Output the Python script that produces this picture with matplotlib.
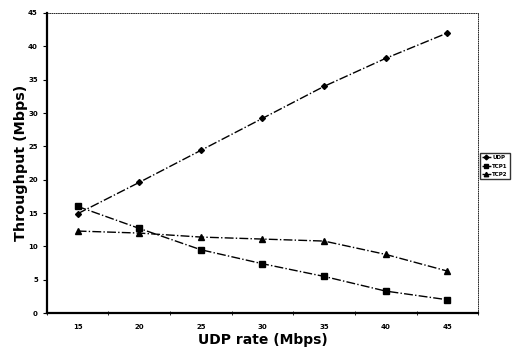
import numpy as np
import matplotlib.pyplot as plt

# dữ liệu
rates = ["15", "20", "25", "30", "35", "40", "45"]
udp = [14.9, 19.6, 24.4, 29.2, 34.0, 38.2, 42.0]
tcp1 = [16.0, 12.7, 9.5, 7.4, 5.5, 3.3, 2.0]
tcp2 = [12.3, 12.0, 11.4, 11.1, 10.8, 8.8, 6.3]

x = np.arange(len(rates))

fig = plt.figure(figsize=(5.26, 3.51), dpi=100)
ax = fig.add_axes([0.089, 0.108, 0.82, 0.855])

ax.plot(x, udp, color="black", linestyle="-.", linewidth=1, marker="D", markersize=3, label="UDP")
ax.plot(x, tcp1, color="black", linestyle="-.", linewidth=1, marker="s", markersize=4, label="TCP1")
ax.plot(x, tcp2, color="black", linestyle="-.", linewidth=1, marker="^", markersize=4, label="TCP2")

ax.set_xlim(-0.5, len(rates) - 0.5)
ax.set_ylim(0, 45)
ax.set_yticks(np.arange(0, 46, 5))
ax.set_xticks(x)
ax.set_xticklabels(rates)
ax.set_xticks(np.arange(-0.5, len(rates), 1), minor=True)
ax.tick_params(axis="x", which="major", length=0, pad=8)
ax.tick_params(axis="x", which="minor", length=3, direction="inout")
ax.tick_params(axis="y", length=3, direction="out")
for lab in ax.get_xticklabels() + ax.get_yticklabels():
    lab.set_fontsize(5)
    lab.set_fontweight("bold")

for side in ["left", "bottom"]:
    ax.spines[side].set_linewidth(1.6)
for side in ["top", "right"]:
    ax.spines[side].set_linewidth(0.6)
    ax.spines[side].set_linestyle(":")

ax.set_xlabel("UDP rate (Mbps)", fontsize=10, fontweight="bold", labelpad=2)
ax.set_ylabel("Throughput (Mbps)", fontsize=10.3, fontweight="bold", labelpad=0)

leg = ax.legend(loc="center left", bbox_to_anchor=(1.0, 0.49), fontsize=4,
                frameon=True, fancybox=False, edgecolor="black", markerscale=0.8,
                handlelength=1.6, borderpad=0.35, labelspacing=0.7, handletextpad=0.3,
                borderaxespad=0.3)
leg.get_frame().set_linewidth(1)
for t in leg.get_texts():
    t.set_fontweight("bold")

fig.savefig("out.png", dpi=100)
